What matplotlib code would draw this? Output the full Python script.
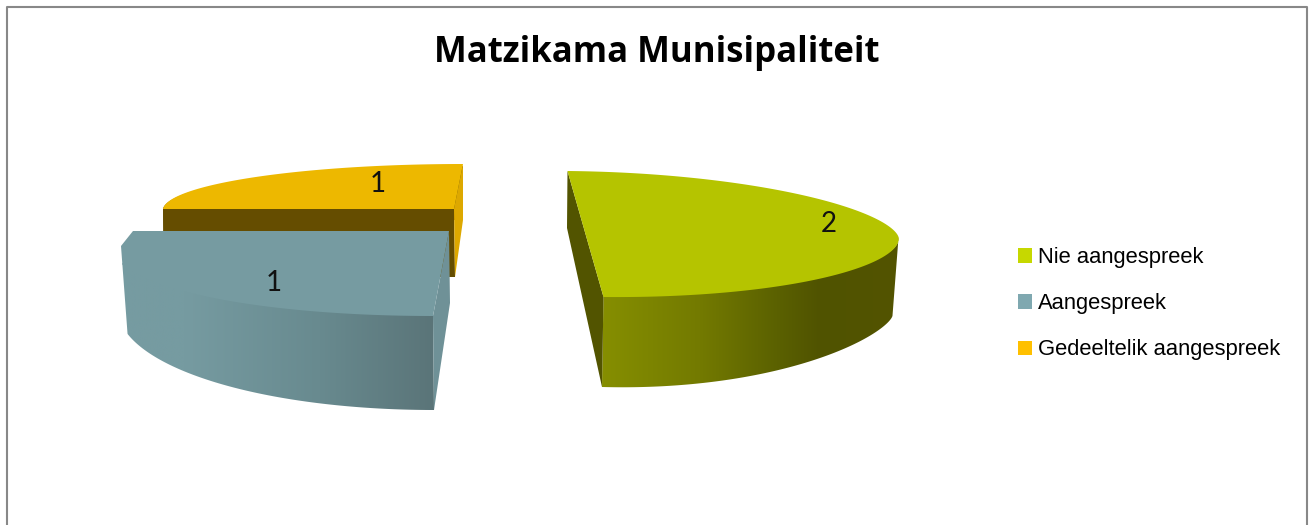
"""Exploded 3D-look pie: Matzikama Munisipaliteit."""

import matplotlib
matplotlib.use("Agg")
import matplotlib.pyplot as plt
import numpy as np
from matplotlib.colors import LinearSegmentedColormap
from matplotlib.patches import Patch, Polygon

TITLE = "Matzikama Munisipaliteit"
labels = ["Nie aangespreek", "Aangespreek", "Gedeeltelik aangespreek"]
values = [2, 1, 1]
legend_colors = ["#C6D800", "#7FA8B0", "#FFC000"]
top_colors = ["#B5C400", "#769BA1", "#EDB800"]
start_face = ["#525400", "#6F9197", "#654D00"]
end_face = [None, None, "#DDA800"]

# per slice projection: centre, start-edge vector, vector 90 deg further round, rim sharpness
top_frame = [((585.5, 234), (-18, -63), (313, 3), 1.12),
             ((449, 231), (-16, 85), (-340, 0), 0.85),
             ((454, 209), (-291, 0), (9, -45), 1.0)]
bot_frame = [((584.5, 307.5), (-17.5, -79.5), (308, 8), 1.5),
             ((450, 303), (-16, 107), (-332, 0), 1.0),
             ((455, 277), (-291, 0), (8, -57), 1.0)]

# side wall shading, stops as (pixel x, colour)
side_stops = [[(600, "#868F00"), (700, "#737A00"), (780, "#5A6000"), (820, "#505300"), (900, "#535400")],
              [(118, "#769BA1"), (185, "#769BA1"), (320, "#688A8F"), (436, "#5A7478")],
              [(160, "#654D00"), (465, "#654D00")]]
label_pos = [(829, 224), (274, 283), (378, 184)]
draw_order = [0, 2, 1]

# the teal slice runs off the plot area on its left, (y, x limit) of that cut
teal_cut_y = [231, 246, 340]
teal_cut_x = [133, 121, 128]


def rim(frame, span, n=240):
    c, u, v, p = frame
    phi = np.radians(np.linspace(0, span, n))
    cos = np.cos(phi)
    bent = np.sign(cos) * np.abs(cos) ** p
    return np.array(c, float) + np.outer(bent, u) + np.outer(np.sin(phi), v)


def cut_left(pts):
    pts = pts.copy()
    pts[:, 0] = np.maximum(pts[:, 0], np.interp(pts[:, 1], teal_cut_y, teal_cut_x))
    return pts


def shaded(ax, poly, stops, z):
    x0, x1 = stops[0][0], stops[-1][0]
    pos = [(s[0] - x0) / (x1 - x0) for s in stops]
    cmap = LinearSegmentedColormap.from_list("side", list(zip(pos, [s[1] for s in stops])))
    ys = poly[:, 1]
    im = ax.imshow(np.linspace(0, 1, 512).reshape(1, -1), cmap=cmap, aspect="auto",
                   extent=(x0, x1, ys.max() + 5, ys.min() - 5), zorder=z)
    patch = Polygon(poly, closed=True, transform=ax.transData, fc="none", ec="none")
    im.set_clip_path(patch)


fig = plt.figure(figsize=(13.09, 5.25), dpi=100, facecolor="white")
ax = fig.add_axes([0, 0, 1, 1])
ax.set_axis_off()

total = sum(values)
spans = [v / total * 360 for v in values]

for order, i in enumerate(draw_order):
    z = 2 + order * 5
    top = rim(top_frame[i], spans[i])
    bot = rim(bot_frame[i], spans[i])
    c_top = np.array(top_frame[i][0], float)
    c_bot = np.array(bot_frame[i][0], float)

    # wall starts a little inside the rim so no white seam shows along it
    lifted = top.copy()
    lifted[:, 1] = c_top[1] + 0.95 * (top[:, 1] - c_top[1])
    if spans[i] >= 180:
        # only the front half of the big slice has a wall we can see
        half = len(top) // 2
        wall = np.vstack([lifted[half:], bot[half:][::-1]])
    elif i == 1:
        # walk down the cut line between the two rims
        side = np.column_stack([np.zeros(60), np.linspace(top[-1, 1], bot[-1, 1], 60)])
        wall = cut_left(np.vstack([lifted, side, bot[::-1]]))
        top = cut_left(top)
    else:
        wall = np.vstack([lifted, bot[::-1]])
    shaded(ax, wall, side_stops[i], z)

    # flat cut faces, for the half slice both edges lie in one face
    if spans[i] >= 180:
        ax.add_patch(Polygon([top[0], top[-1], bot[-1], bot[0]], closed=True,
                             fc=start_face[i], ec="none", zorder=z + 1))
    else:
        ax.add_patch(Polygon([c_top, top[0], bot[0], c_bot], closed=True,
                             fc=start_face[i], ec="none", zorder=z + 1))
        if end_face[i]:
            ax.add_patch(Polygon([c_top, top[-1], bot[-1], c_bot], closed=True,
                                 fc=end_face[i], ec="none", zorder=z + 1))

    pts = top if spans[i] >= 180 else np.vstack([c_top, top])
    ax.add_patch(Polygon(pts, closed=True, fc=top_colors[i], ec="none", zorder=z + 2))
    ax.text(*label_pos[i], str(values[i]), ha="center", va="center", fontsize=20,
            family="Lato", color="#111111", zorder=30)

ax.set_xlim(0, 1309)
ax.set_ylim(525, 0)

# outer frame, cut by the bottom of the picture
ax.plot([7, 7, 1307, 1307], [525, 7, 7, 525], color="#888888", lw=1.5, zorder=40)

ax.text(656.5, 62, TITLE, ha="center", va="baseline", fontsize=25, fontweight="bold",
        family="Open Sans", color="black")

handles = [Patch(fc=c, ec="none") for c in legend_colors]
ax.legend(handles, labels, loc="upper left", bbox_to_anchor=(1018, 247),
          bbox_transform=ax.transData, frameon=False,
          prop={"family": "Liberation Sans", "size": 15.8},
          handlelength=0.64, handleheight=0.64, handletextpad=0.275,
          labelspacing=1.15, borderpad=0, borderaxespad=0)

fig.savefig("out.png", dpi=100)
